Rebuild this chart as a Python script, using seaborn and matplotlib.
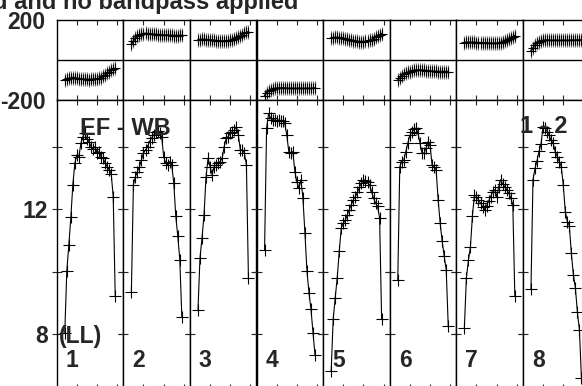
import matplotlib
matplotlib.use("Agg")
import matplotlib.pyplot as plt
import seaborn as sns

sns.set_style("white")
plt.rcParams['font.family'] = ['Liberation Sans', 'DejaVu Sans']
plt.rcParams['font.weight'] = 'bold'
plt.rcParams['axes.unicode_minus'] = False

# canales por IF (los de los bordes no se dibujan)
canales = list(range(4, 30))

## amplitud por IF ##
amp_1 = [8.04, 10.01, 10.84, 11.73, 12.78, 13.47, 13.73, 13.68, 14.11, 14.32, 14.43, 14.23, 14.16,
         14.0, 13.91, 14.0, 13.79, 13.84, 13.68, 13.63, 13.47, 13.36, 13.26, 13.13, 12.40, 9.21]
amp_2 = [9.34, 12.78, 13.04, 13.20, 13.36, 13.57, 13.79, 13.89, 14.0, 14.16, 14.27, 14.37, 14.48,
         14.51, 14.43, 14.32, 13.68, 13.47, 13.41, 13.52, 13.41, 12.83, 11.77, 11.13, 10.38, 8.55]
amp_3 = [8.77, 10.44, 11.07, 11.82, 13.04, 13.63, 13.36, 13.10, 13.36, 13.41, 13.47, 13.52, 13.63,
         14.0, 14.27, 14.32, 14.43, 14.48, 14.53, 14.64, 14.37, 13.89, 13.89, 13.79, 13.41, 9.80]
amp_4 = [10.70, 14.59, 15.06, 14.90, 14.85, 14.85, 14.83, 14.85, 14.83, 14.83, 14.74, 14.37, 13.84,
         13.79, 13.84, 13.20, 12.88, 12.67, 12.94, 12.35, 11.23, 10.01, 9.32, 8.79, 8.04, 7.32]
amp_5 = [6.82, 8.47, 9.16, 9.80, 10.65, 11.39, 11.55, 11.64, 11.82, 11.98, 12.14, 12.30, 12.40,
         12.53, 12.70, 12.83, 12.94, 12.91, 12.85, 12.78, 12.56, 12.35, 12.19, 12.09, 11.71, 8.47]
amp_6 = [9.74, 13.36, 13.52, 13.57, 13.84, 14.11, 14.37, 14.45, 14.55, 14.59, 14.43, 14.11, 13.79,
         13.79, 13.95, 14.16, 14.05, 13.41, 13.36, 13.26, 12.30, 11.55, 10.97, 10.49, 10.06, 8.26]
amp_7 = [8.20, 9.80, 10.36, 10.79, 11.79, 12.46, 12.40, 12.30, 12.19, 12.08, 11.98, 12.10, 12.25,
         12.40, 12.55, 12.62, 12.40, 12.72, 12.94, 12.80, 12.72, 12.62, 12.51, 12.35, 12.14, 9.21]
amp_8 = [9.44, 12.94, 13.30, 13.55, 13.85, 14.09, 14.64, 14.59, 14.48, 14.37, 14.20, 14.11, 13.84,
         13.68, 13.52, 13.36, 12.78, 11.92, 11.60, 11.47, 10.59, 9.90, 9.48, 8.70, 8.14, 6.60]

## fase por IF (grados) ##
fase_1 = [-100, -96, -92, -90, -88, -89, -91, -93, -95, -96, -97, -97, -98,
          -97, -96, -95, -94, -92, -88, -82, -75, -67, -60, -52, -46, -42]
fase_2 = [80, 95, 110, 120, 126, 130, 132, 133, 132, 131, 130, 129, 128,
          127, 126, 125, 125, 124, 124, 123, 123, 122, 122, 122, 123, 123]
fase_3 = [100, 102, 103, 103, 102, 101, 100, 99, 98, 97, 96, 95, 95,
          95, 95, 96, 98, 100, 104, 108, 114, 120, 127, 133, 138, 142]
fase_4 = [-178, -165, -155, -148, -144, -142, -141, -140, -140, -140, -141, -141, -142,
          -142, -142, -142, -142, -142, -142, -142, -142, -142, -142, -142, -141, -140]
fase_5 = [110, 112, 113, 113, 112, 111, 109, 107, 104, 101, 99, 97, 95,
          93, 92, 92, 92, 93, 95, 98, 102, 107, 113, 120, 126, 132]
fase_6 = [-100, -90, -80, -72, -66, -62, -58, -55, -52, -50, -50, -50, -51,
          -52, -53, -54, -55, -56, -57, -57, -58, -58, -58, -58, -58, -58]
fase_7 = [87, 88, 88, 88, 88, 88, 87, 87, 86, 86, 85, 85, 84,
          84, 83, 83, 83, 84, 86, 89, 93, 98, 104, 110, 117, 122]
fase_8 = [45, 60, 75, 85, 92, 96, 98, 99, 99, 99, 98, 98, 98,
          98, 98, 98, 98, 98, 98, 98, 99, 99, 99, 100, 100, 100]
err_fase = 35

etiquetas_if = ['1', '2', '3', '4', '5', '6', '7', '8']
amplitudes = [amp_1, amp_2, amp_3, amp_4, amp_5, amp_6, amp_7, amp_8]
fases = [fase_1, fase_2, fase_3, fase_4, fase_5, fase_6, fase_7, fase_8]

W, H = 582, 386
fig = plt.figure(figsize=(W / 100, H / 100), dpi=100)

x0, ancho = 56.7, 66.6


def estilo_ejes(ax):
    for s in ax.spines.values():
        s.set_color('black')
        s.set_linewidth(1.0)
    ax.set_xlim(0, 33)
    ax.set_xticks([10, 20, 30])
    ax.tick_params(axis='x', direction='in', top=True, bottom=True, length=3.5,
                   width=0.8, labelbottom=False)
    ax.set_xlabel('')
    ax.set_ylabel('')


for i in range(8):
    izq = (x0 + i * ancho) / W

    ## fase ##
    axf = fig.add_axes([izq, (H - 100) / H, ancho / W, 80 / H])
    axf.errorbar(canales, fases[i], yerr=err_fase, fmt='none', ecolor='0.45', elinewidth=0.8)
    sns.lineplot(x=canales, y=fases[i], ax=axf, color='black', linewidth=1.2, marker='+',
                 markersize=7, markeredgewidth=0.8, markeredgecolor='black')
    axf.axhline(0, color='black', linewidth=1.0)
    estilo_ejes(axf)
    axf.set_ylim(-200, 200)
    axf.set_yticks([-200, 200])
    if i == 0:
        axf.set_yticklabels(['-200', '200'])
    else:
        axf.set_yticklabels([])
    axf.tick_params(axis='y', length=0, labelsize=16.5, pad=8)

    ## amplitud ##
    axa = fig.add_axes([izq, (H - 389) / H, ancho / W, 289 / H])
    sns.lineplot(x=canales, y=amplitudes[i], ax=axa, color='black', linewidth=0.8, marker='+',
                 markersize=8.5, markeredgewidth=0.8, markeredgecolor='black')
    estilo_ejes(axa)
    axa.set_ylim(6.24, 15.49)
    axa.set_yticks([8, 10, 12, 14])
    if i == 0:
        axa.set_yticklabels(['8', '', '12', ''])
    else:
        axa.set_yticklabels([])
    axa.tick_params(axis='y', direction='inout', left=True, right=True, length=6.5,
                    width=0.8, labelsize=16.5, pad=3)
    axa.text(0.23, 0.10, etiquetas_if[i], transform=axa.transAxes, ha='center', va='center',
             fontsize=16.5, fontweight='bold')
    if i == 0:
        axa.text(0.035, 0.18, '(LL)', transform=axa.transAxes, ha='left', va='center',
                 fontsize=16.5, fontweight='bold')

fig.text(298 / W, 1 - 9 / H, 'd and no bandpass applied', ha='right', va='baseline',
         fontsize=17, fontweight='bold')
fig.text(80 / W, 1 - 135 / H, 'EF - WB', ha='left', va='baseline', fontsize=17, fontweight='bold')
fig.text(520 / W, 1 - 133 / H, '1 - 2', ha='left', va='baseline', fontsize=17, fontweight='bold')

fig.savefig('out.png', dpi=100)
